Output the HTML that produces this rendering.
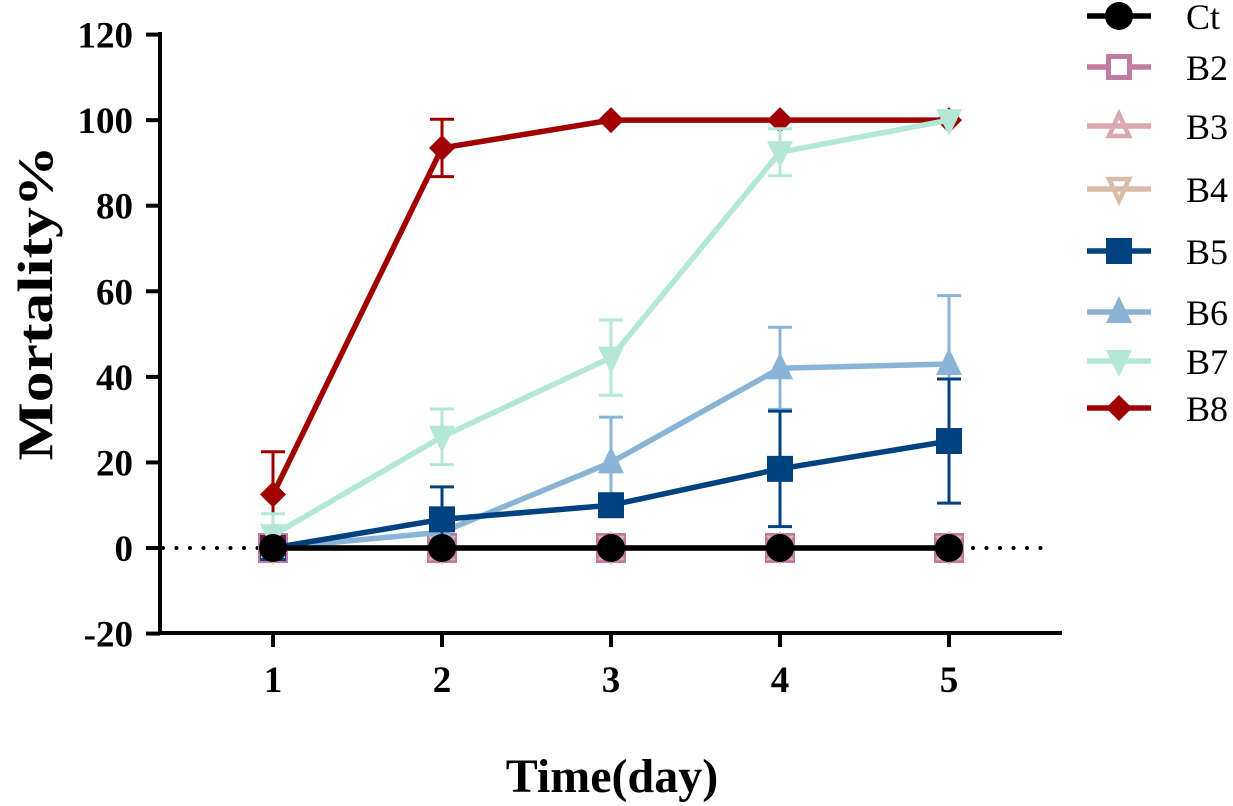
<!DOCTYPE html>
<html><head><meta charset="utf-8"><style>
body{margin:0;background:#fff}
svg{display:block;font-family:"Liberation Serif",serif}
</style></head><body>
<svg id="c" width="1233" height="806"></svg>
<script>
const days=[1,2,3,4,5];
const yTicks=[-20,0,20,40,60,80,100,120];
const names=["Ct","B2","B3","B4","B5","B6","B7","B8"];
const colors=["#000000","#c27ba0","#dba8b0","#d9bca8","#00427f","#8ab4d6","#b3e8d6","#a00000"];
const markers=["circle","sq-open","tri-open","tri-down-open","square","triangle","tri-down","diamond"];
const legendY=[16,67,126,189,251,312,361,408];
const ct=[0,0,0,0,0], ctErr=[0,0,0,0,0];
const b2=[0,0,0,0,0], b2Err=[0,0,0,0,0];
const b3=[0,0,0,0,0], b3Err=[0,0,0,0,0];
const b4=[0,0,0,0,0], b4Err=[0,0,0,0,0];
const b5=[0,6.7,10,18.5,25], b5Err=[0,7.6,0,13.5,14.5];
const b6=[0,3.7,20,42,43], b6Err=[0,0,10.6,9.6,16];
const b7=[3,26,44.5,92.5,100], b7Err=[5,6.5,8.8,5.5,0];
const b8=[12.5,93.5,100,100,100], b8Err=[10,6.7,0,0,0];
const series=[ct,b2,b3,b4,b5,b6,b7,b8];
const errs=[ctErr,b2Err,b3Err,b4Err,b5Err,b6Err,b7Err,b8Err];

const NS="http://www.w3.org/2000/svg";
const svg=document.getElementById('c');
const X=d=>273+(d-1)*169;
const Y=v=>548-(v)*(599/140);
function el(t,a,p){const e=document.createElementNS(NS,t);for(const k in a)e.setAttribute(k,a[k]);(p||svg).appendChild(e);return e;}
function marker(g,type,x,y,c,s){
  s=s||13;let e;
  if(type==="circle")e=el('circle',{cx:x,cy:y,r:s+1,fill:c},g);
  else if(type==="square")e=el('rect',{x:x-s,y:y-s,width:2*s,height:2*s,fill:c},g);
  else if(type==="sq-open")e=el('rect',{x:x-s+2.5,y:y-s+2.5,width:2*s-5,height:2*s-5,fill:"none",stroke:c,"stroke-width":5},g);
  else if(type==="triangle")e=el('polygon',{points:`${x},${y-s-3} ${x-s},${y+s-2} ${x+s},${y+s-2}`,fill:c},g);
  else if(type==="tri-open")e=el('polygon',{points:`${x},${y-s+1} ${x-s+3},${y+s-3} ${x+s-3},${y+s-3}`,fill:"none",stroke:c,"stroke-width":4.5},g);
  else if(type==="tri-down")e=el('polygon',{points:`${x},${y+s+3} ${x-s},${y-s+2} ${x+s},${y-s+2}`,fill:c},g);
  else if(type==="tri-down-open")e=el('polygon',{points:`${x},${y+s-1} ${x-s+3},${y-s+3} ${x+s-3},${y-s+3}`,fill:"none",stroke:c,"stroke-width":4.5},g);
  else if(type==="diamond")e=el('polygon',{points:`${x},${y-s} ${x+s},${y} ${x},${y+s} ${x-s},${y}`,fill:c},g);
  return e;
}
const zl=el('line',{x1:163,y1:Y(0),x2:1050,y2:Y(0),stroke:"#000","stroke-width":4,"stroke-dasharray":"0 13.5","stroke-linecap":"round"});


const ax=el('g',{});


el('line',{x1:160,y1:32,x2:160,y2:635,stroke:"#000","stroke-width":4},ax);
el('line',{x1:158,y1:633,x2:1062,y2:633,stroke:"#000","stroke-width":4},ax);
yTicks.forEach(t=>{
  el('line',{x1:146,y1:Y(t),x2:160,y2:Y(t),stroke:"#000","stroke-width":4},ax);
  const tx=el('text',{x:133,y:Y(t)+13,"text-anchor":"end","font-size":37,"font-weight":"bold"},ax);
  tx.textContent=t;
  
  
});
days.forEach(d=>{
  el('line',{x1:X(d),y1:633,x2:X(d),y2:647,stroke:"#000","stroke-width":4},ax);
  const tx=el('text',{x:X(d),y:692,"text-anchor":"middle","font-size":37,"font-weight":"bold"},ax);
  tx.textContent=d;
  
  
});
const yl=el('text',{x:0,y:0,transform:"translate(52,303) rotate(-90)","text-anchor":"middle","font-size":50,"font-weight":"bold",textLength:315,lengthAdjust:"spacingAndGlyphs"});
yl.textContent="Mortality%";


const xl=el('text',{x:612,y:792,"text-anchor":"middle","font-size":48,"font-weight":"bold"});
xl.textContent="Time(day)";


const order=[1,2,3,5,4,7,6,0];
order.forEach(i=>{
  const g=el('g',{});
  
  
  const c=colors[i],vals=series[i],er=errs[i];
  days.forEach((d,j)=>{
    if(er[j]>0){
      const x=X(d),t=Y(vals[j]+er[j]),b=Y(vals[j]-er[j]);
      el('line',{x1:x,y1:t,x2:x,y2:b,stroke:c,"stroke-width":3},g);
      el('line',{x1:x-12,y1:t,x2:x+12,y2:t,stroke:c,"stroke-width":3},g);
      el('line',{x1:x-12,y1:b,x2:x+12,y2:b,stroke:c,"stroke-width":3},g);
    }
  });
  el('polyline',{points:days.map((d,j)=>X(d)+","+Y(vals[j])).join(" "),fill:"none",stroke:c,"stroke-width":5.5,"stroke-linejoin":"round"},g);
  days.forEach((d,j)=>{
    const m=marker(g,markers[i]==="sq-open"?"square":markers[i],X(d),Y(vals[j]),c,i===1?15:13);
    
    
  });
});
const lg=el('g',{});


names.forEach((n,i)=>{
  const g=el('g',{},lg);
  
  
  const y=legendY[i],c=colors[i];
  el('line',{x1:1087,y1:y,x2:1151,y2:y,stroke:c,"stroke-width":5.5},g);
  if(markers[i]==="sq-open")el('rect',{x:1107,y:y-12,width:24,height:24,fill:"#fff"},g);
  marker(g,markers[i],1119,y,c,13);
  const t=el('text',{x:1186,y:y+13,"font-size":36},g);
  t.textContent=n;
});
</script>
</body></html>
